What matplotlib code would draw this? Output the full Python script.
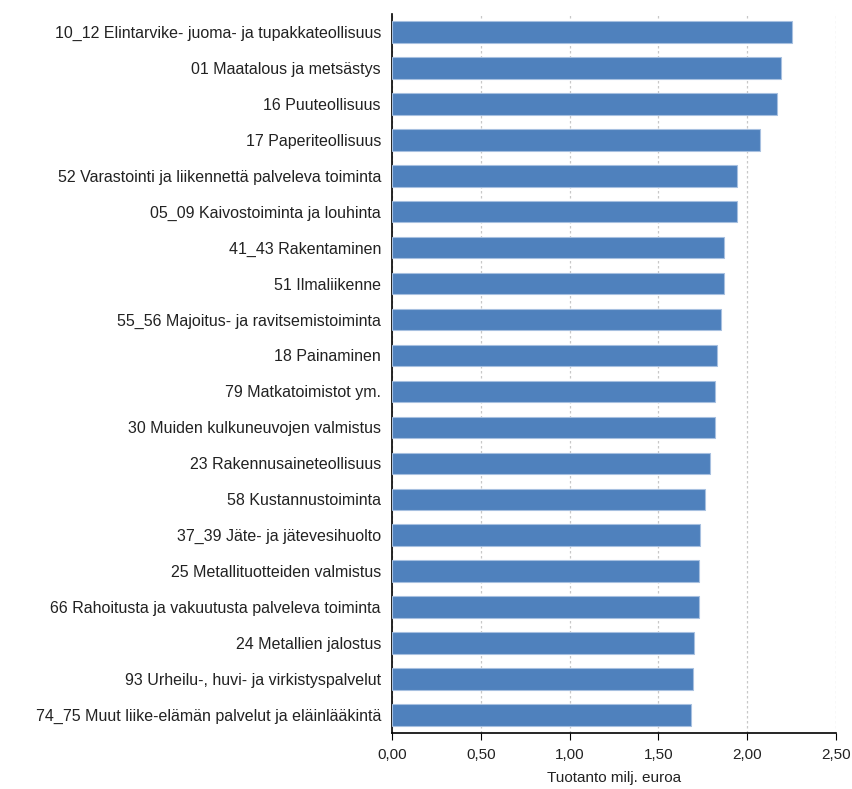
import matplotlib.pyplot as plt
from matplotlib.ticker import FuncFormatter

toimialat = [
    '10_12 Elintarvike- juoma- ja tupakkateollisuus',
    '01 Maatalous ja metsästys',
    '16 Puuteollisuus',
    '17 Paperiteollisuus',
    '52 Varastointi ja liikennettä palveleva toiminta',
    '05_09 Kaivostoiminta ja louhinta',
    '41_43 Rakentaminen',
    '51 Ilmaliikenne',
    '55_56 Majoitus- ja ravitsemistoiminta',
    '18 Painaminen',
    '79 Matkatoimistot ym.',
    '30 Muiden kulkuneuvojen valmistus',
    '23 Rakennusaineteollisuus',
    '58 Kustannustoiminta',
    '37_39 Jäte- ja jätevesihuolto',
    '25 Metallituotteiden valmistus',
    '66 Rahoitusta ja vakuutusta palveleva toiminta',
    '24 Metallien jalostus',
    '93 Urheilu-, huvi- ja virkistyspalvelut',
    '74_75 Muut liike-elämän palvelut ja eläinlääkintä',
]
tuotanto = [2.25, 2.19, 2.17, 2.07, 1.945, 1.945, 1.872, 1.872, 1.855, 1.827,
            1.82, 1.82, 1.793, 1.764, 1.736, 1.73, 1.73, 1.70, 1.693, 1.684]

plt.rcParams['font.family'] = ['Liberation Sans', 'DejaVu Sans']

fig = plt.figure(figsize=(8.53, 7.89), dpi=100)
ax = fig.add_axes([0.4596, 0.071, 0.5205, 0.9113])

pos = list(range(len(toimialat)))
ax.barh(pos, tuotanto, height=0.6, color='#4F81BD', edgecolor='#A7C0E0', linewidth=0.8, zorder=3)

ax.set_xlim(0, 2.5)
ax.set_ylim(len(toimialat) - 0.5, -0.5)
ax.set_xticks([0, 0.5, 1.0, 1.5, 2.0, 2.5])
ax.xaxis.set_major_formatter(FuncFormatter(lambda v, p: f'{v:.2f}'.replace('.', ',')))
ax.set_yticks(pos)
ax.set_yticklabels(toimialat, fontsize=11.5, color='#222222')
ax.tick_params(axis='y', length=0, pad=8)
ax.tick_params(axis='x', length=5, labelsize=11, labelcolor='#222222', pad=6)

ax.grid(axis='x', color='#C8C8C8', linestyle=(0, (2, 2)), linewidth=0.9, zorder=0)
ax.spines['top'].set_visible(False)
ax.spines['right'].set_visible(False)
ax.spines['left'].set_linewidth(1.2)
ax.spines['bottom'].set_linewidth(1.2)

ax.set_xlabel('Tuotanto milj. euroa', fontsize=11, color='#222222', labelpad=6)

plt.savefig('out.png', dpi=100)
plt.close()
